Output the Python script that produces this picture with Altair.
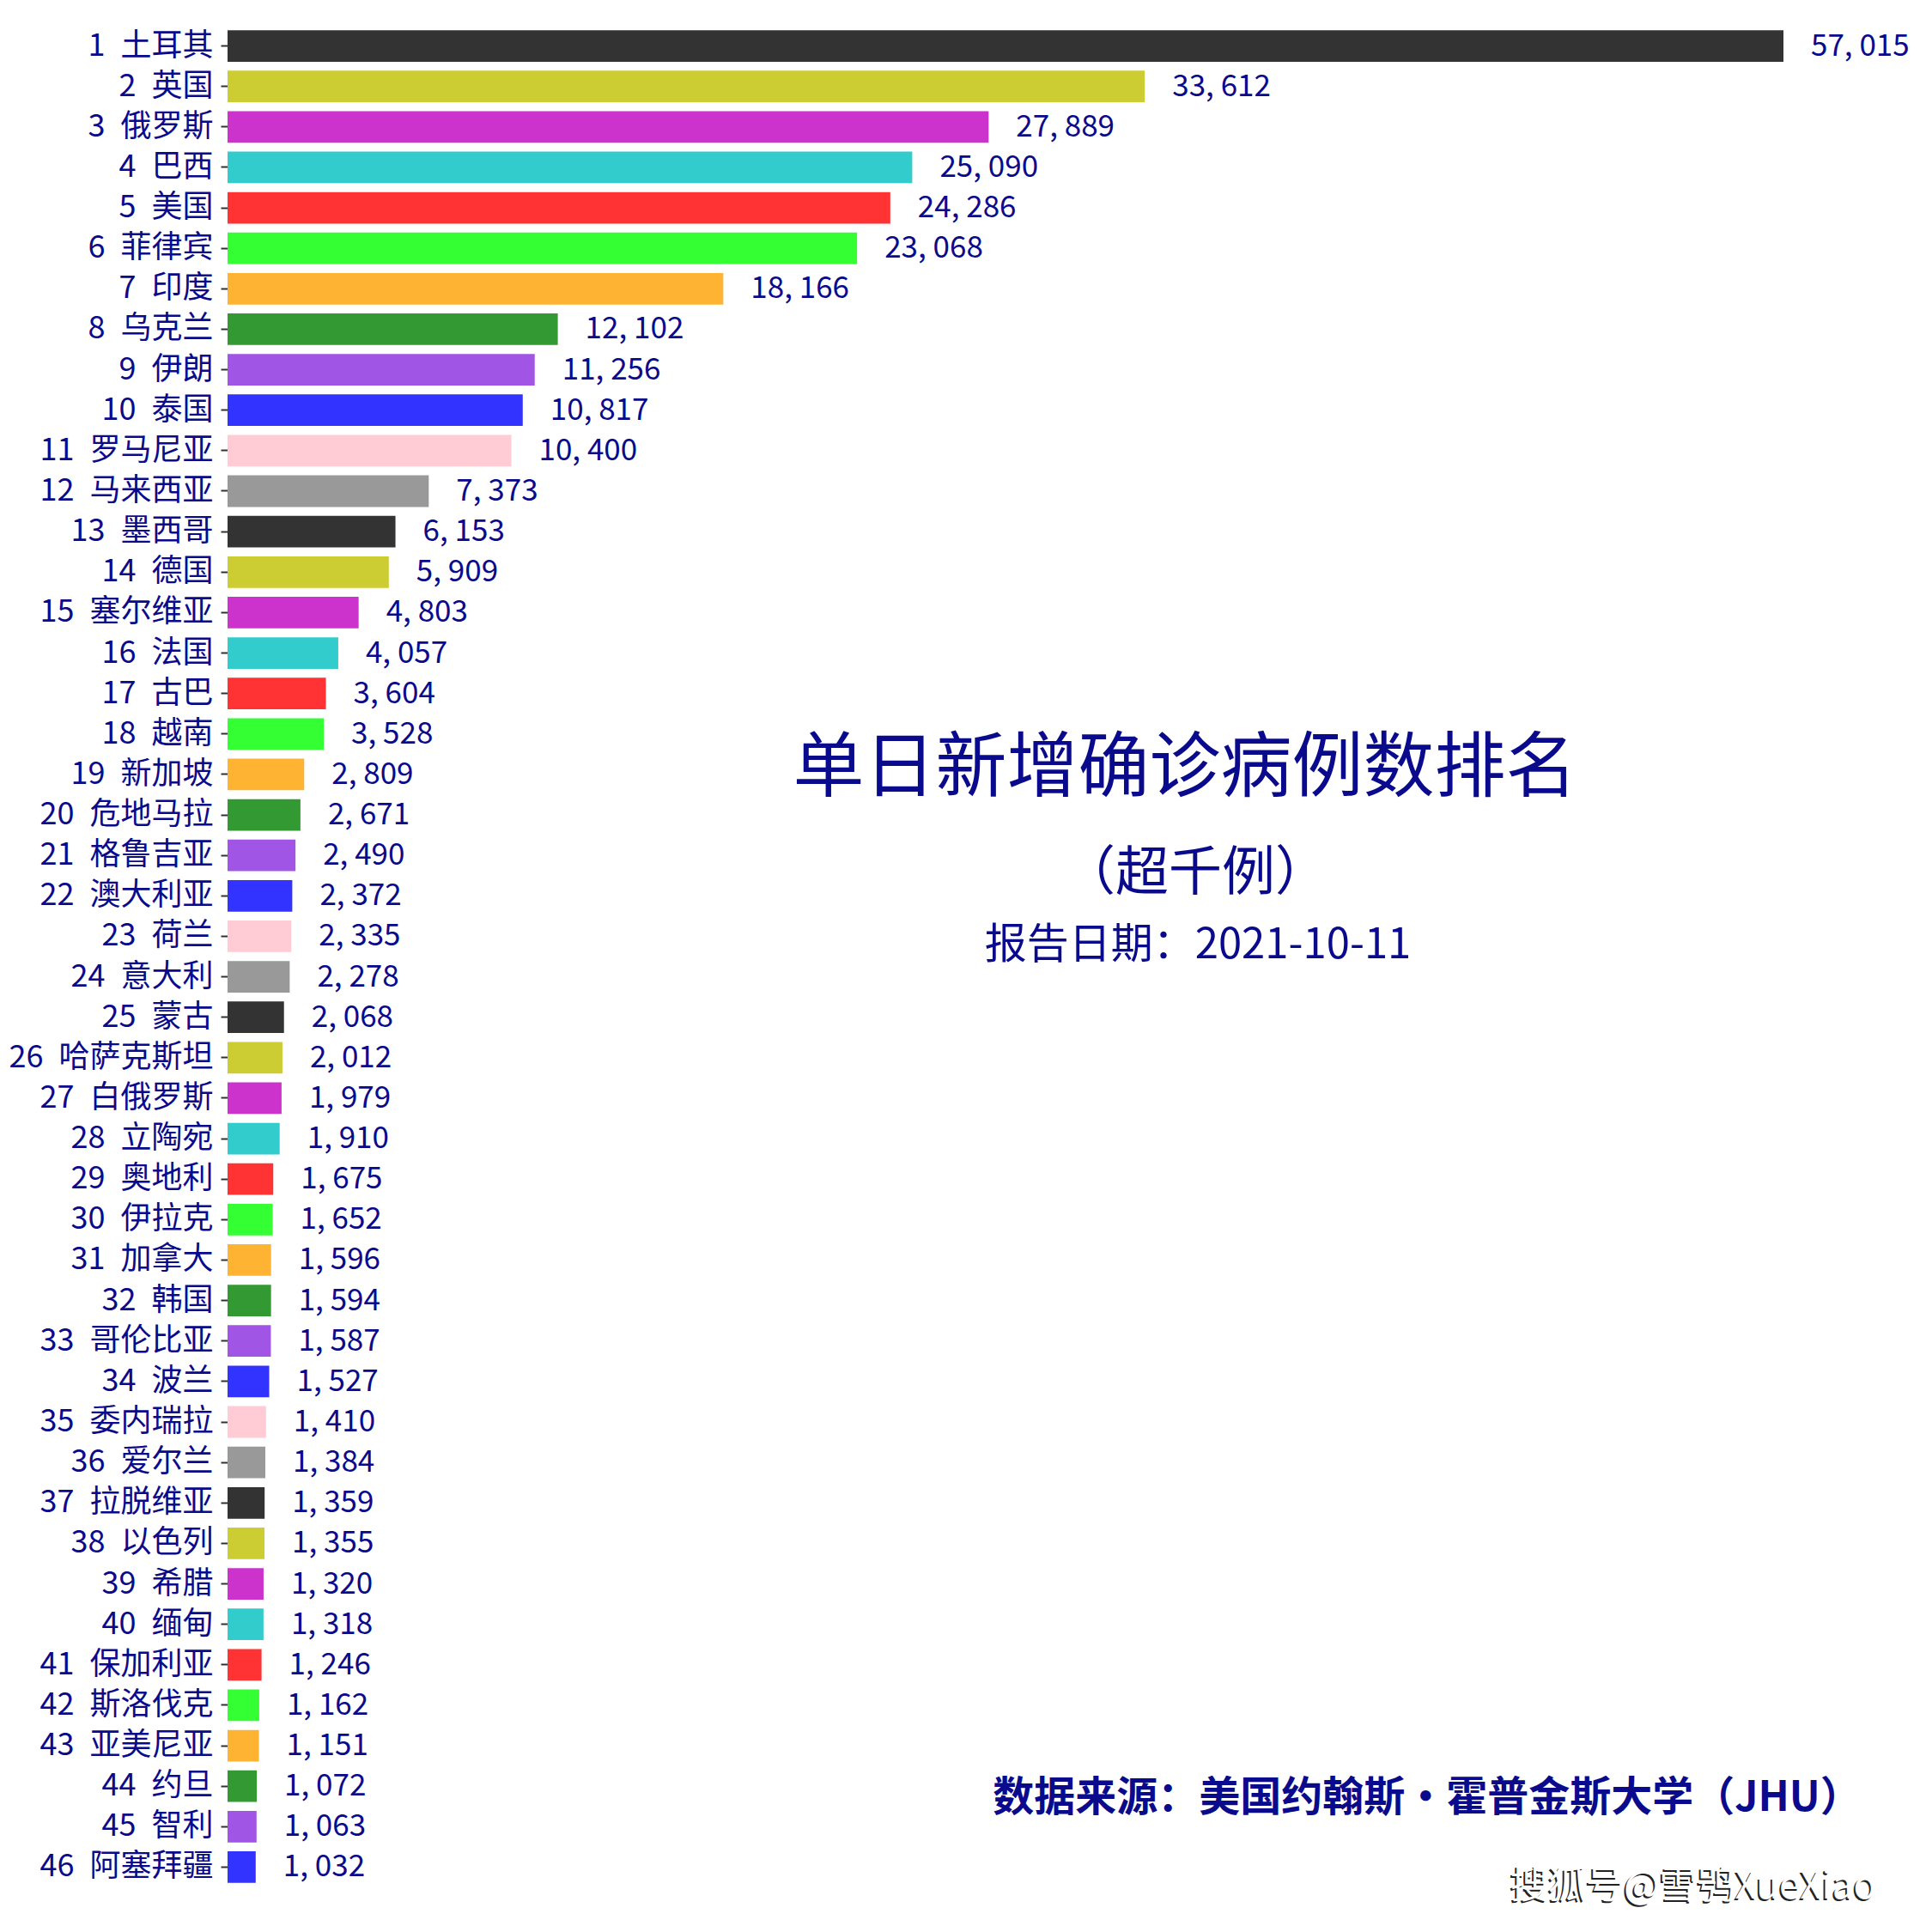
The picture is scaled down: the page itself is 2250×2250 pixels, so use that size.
import altair as alt
import pandas as pd

ranks = list(range(1, 47))
countries = ["土耳其", "英国", "俄罗斯", "巴西", "美国", "菲律宾", "印度", "乌克兰", "伊朗", "泰国",
             "罗马尼亚", "马来西亚", "墨西哥", "德国", "塞尔维亚", "法国", "古巴", "越南", "新加坡", "危地马拉",
             "格鲁吉亚", "澳大利亚", "荷兰", "意大利", "蒙古", "哈萨克斯坦", "白俄罗斯", "立陶宛", "奥地利", "伊拉克",
             "加拿大", "韩国", "哥伦比亚", "波兰", "委内瑞拉", "爱尔兰", "拉脱维亚", "以色列", "希腊", "缅甸",
             "保加利亚", "斯洛伐克", "亚美尼亚", "约旦", "智利", "阿塞拜疆"]
values = [57015, 33612, 27889, 25090, 24286, 23068, 18166, 12102, 11256, 10817,
          10400, 7373, 6153, 5909, 4803, 4057, 3604, 3528, 2809, 2671,
          2490, 2372, 2335, 2278, 2068, 2012, 1979, 1910, 1675, 1652,
          1596, 1594, 1587, 1527, 1410, 1384, 1359, 1355, 1320, 1318,
          1246, 1162, 1151, 1072, 1063, 1032]
palette = ["#333333", "#CCCC33", "#CC33CC", "#33CCCC", "#FF3333", "#33FF33",
           "#FFB333", "#339933", "#A055E5", "#3333FF", "#FFCCD5", "#999999"]

title_text = "单日新增确诊病例数排名"
subtitle_text = "（超千例）"
date_text = "报告日期：2021-10-11"
source_text = "数据来源：美国约翰斯·霍普金斯大学（JHU）"
watermark_text = "搜狐号@雪鸮XueXiao"

FONT = "Noto Sans CJK SC"
TXT = "#0A0A8C"

labels = [f"{r}\u2002{c}" for r, c in zip(ranks, countries)]
df = pd.DataFrame({
    "label": labels,
    "value": values,
    "color": [palette[i % len(palette)] for i in range(len(values))],
    "vtext": [f"{v:,}".replace(",", ", ") for v in values],
})

W, H = 1812, 2168

y_enc = alt.Y("label:N", sort=labels,
              scale=alt.Scale(paddingInner=0.22, paddingOuter=0.11),
              axis=alt.Axis(title=None, domain=False, ticks=True, tickSize=8, tickWidth=2,
                            tickColor="#333333", labelFontSize=36, labelFont=FONT,
                            labelColor=TXT, labelPadding=9, labelLimit=0))
x_enc = alt.X("value:Q", scale=alt.Scale(domain=[0, 57015], nice=False, zero=True), axis=None)

base = alt.Chart(df)
bars = base.mark_bar().encode(x=x_enc, y=y_enc, color=alt.Color("color:N", scale=None))
vals = base.mark_text(align="left", baseline="middle", dx=32, fontSize=35, font=FONT, color=TXT).encode(
    x=x_enc, y=alt.Y("label:N", sort=labels), text="vtext:N")

def ann(text, x, y, size, weight="normal", color=TXT, dx=0, dy=0):
    return alt.Chart(pd.DataFrame({"t": [text]})).mark_text(
        align="center", baseline="middle", fontSize=size, font=FONT, fontWeight=weight,
        color=color, dx=dx, dy=dy).encode(x=alt.value(x), y=alt.value(y), text="t:N")

title = ann(title_text, 1115, 866, 83)
sub = ann(subtitle_text, 1127, 988, 62)
date = ann(date_text, 1130, 1071, 49)
src = ann(source_text, 1397, 2065, 48, weight="bold")
wm_shadow = ann(watermark_text, 1707, 2168, 44, color="#222222", dx=-2, dy=2)
wm = ann(watermark_text, 1707, 2168, 44, color="#FFFFFF")

chart = alt.layer(bars, vals, title, sub, date, src, wm_shadow, wm).properties(
    width=W, height=H, autosize=alt.AutoSizeParams(type="none"),
    padding={"left": 257, "top": 22, "right": 160, "bottom": 40},
).configure_view(stroke=None)

chart.save("out.html", embed_options={"renderer": "svg", "actions": False})
